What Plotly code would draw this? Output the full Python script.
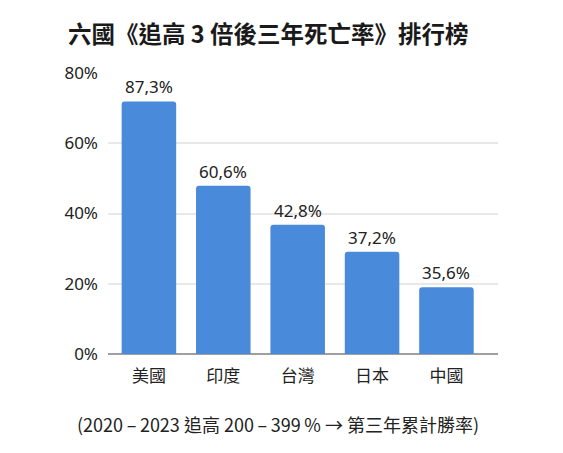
import plotly.graph_objects as go

# data
countries = ["美國", "印度", "台灣", "日本", "中國"]
bar_values = [71.9, 47.9, 36.8, 29.1, 19.0]   # bar heights as drawn (%)
value_labels = ["87,3%", "60,6%", "42,8%", "37,2%", "35,6%"]  # printed labels
y_ticks = [0, 20, 40, 60, 80]
y_tick_text = ["0%", "20%", "40%", "60%", "80%"]

title_text = "六國《追高 3 倍後三年死亡率》排行榜"
note_text = "(2020\u2009–\u20092023 追高 200\u2009–\u2009399\u2009% → 第三年累計勝率)"

FONT = "Noto Sans, Noto Sans CJK TC, sans-serif"
CJK = "Noto Sans CJK TC, Noto Sans, sans-serif"
BAR_COLOR = "#4a8adb"

# the page body has an 8px margin, so layout is shifted back by that much
OFF = 8
W, H = 563, 453
L, R, T, B = 108 - OFF, W - 498 + OFF, 73 - OFF, H - 354.5 + OFF
PW, PH = W - L - R, H - T - B

fig = go.Figure()
fig.add_trace(go.Bar(
    x=countries,
    y=bar_values,
    marker=dict(color=BAR_COLOR, cornerradius=3, line=dict(width=0)),
    hoverinfo="skip",
))

# value labels above bars
for c, v, t in zip(countries, bar_values, value_labels):
    fig.add_annotation(
        x=c, y=v, text=t, showarrow=False,
        yanchor="bottom", yshift=1,
        font=dict(family=FONT, size=17, color="#222222"),
    )

# footnote under the axis
fig.add_annotation(
    xref="paper", yref="paper", x=(277.5 - 108) / PW, y=-(425 - 354.5) / PH,
    text=note_text, showarrow=False, xanchor="center", yanchor="middle",
    font=dict(family=CJK, size=18, color="#222222"),
)

fig.update_layout(
    width=W, height=H,
    margin=dict(l=L, r=R, t=T, b=B),
    paper_bgcolor="white", plot_bgcolor="white",
    bargap=0.267,
    showlegend=False,
    title=dict(
        text="<b>" + title_text + "</b>",
        xref="container", yref="container",
        x=(68 - OFF) / W, xanchor="left",
        y=1 - (34.5 - OFF) / H, yanchor="middle",
        font=dict(family=CJK, size=23.5, color="#1a1a1a"),
    ),
    xaxis=dict(
        range=[-0.55, 4.693],
        showgrid=False,
        showline=False,
        ticks="",
        tickfont=dict(family=CJK, size=17, color="#222222"),
        ticklabelstandoff=10,
        fixedrange=True,
    ),
    yaxis=dict(
        range=[0, 80],
        tickvals=y_ticks,
        ticktext=y_tick_text,
        showgrid=True,
        gridcolor="#e8e8e8",
        gridwidth=1.5,
        zeroline=True,
        zerolinecolor="#a0a0a0",
        zerolinewidth=1.5,
        showline=False,
        ticks="",
        tickfont=dict(family=FONT, size=17, color="#222222"),
        ticklabelstandoff=9,
        fixedrange=True,
    ),
)

fig.write_html("out.html")
